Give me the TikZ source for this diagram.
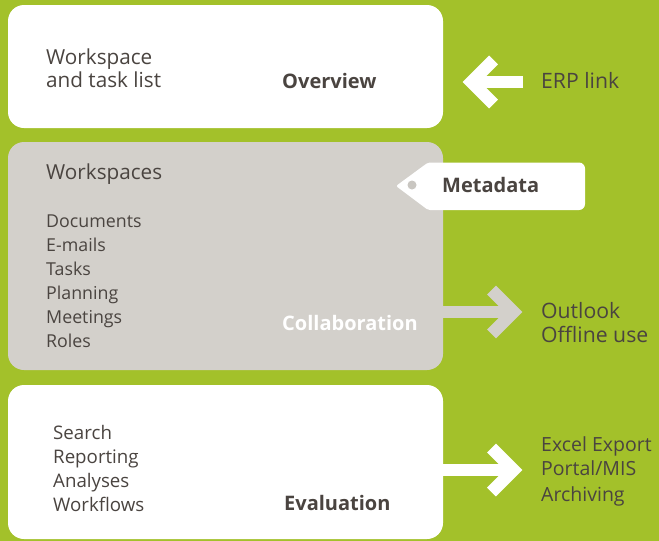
\documentclass[tikz,border=0pt]{standalone}
\usepackage{fontspec}
\setmainfont{Open Sans}
\usetikzlibrary{calc}
\definecolor{bggreen}{HTML}{A3C12A}
\definecolor{boxgray}{HTML}{D3D0CB}
\definecolor{txt}{HTML}{4A4440}
\definecolor{holegray}{HTML}{C9C6C1}
\tikzset{
  lbl/.style={anchor=base west, inner sep=0pt, text=txt},
  big/.style={lbl, font=\fontsize{20.7}{24}\selectfont},
  side/.style={lbl, font=\fontsize{21.2}{24}\selectfont},
  sidesmall/.style={lbl, font=\fontsize{19.5}{22}\selectfont},
  small/.style={lbl, font=\fontsize{17.8}{20}\selectfont},
  smallb/.style={lbl, font=\fontsize{18.7}{20}\selectfont},
  bigbold/.style={lbl, font=\fontsize{20}{24}\selectfont\bfseries},
  fatarrow/.style={line width=12.5pt, miter limit=10, line join=miter},
}
\begin{document}
\begin{tikzpicture}[x=1pt,y=-1pt]
\useasboundingbox (0,0) rectangle (659,541);
\fill[bggreen] (0,0) rectangle (659,541);
% panels
\fill[white, rounded corners=16pt] (8,5) rectangle (443,128);
\fill[boxgray, rounded corners=16pt] (8,142) rectangle (443,370);
\fill[white, rounded corners=16pt] (8,385) rectangle (443,539);
% metadata tag
\fill[white] (396,186) [rounded corners=2pt]-- (428,162.5) [rounded corners=6pt]-- (585,162.5) -- (585,210) [rounded corners=2pt]-- (428,210) -- cycle;
\fill[holegray] (412,185) circle (4.5);
% arrows
\coordinate (erpA) at (471.5,82);
\draw[white, fatarrow] (523,82) -- (erpA);
\draw[white, fatarrow] ($(erpA)+(22,-22)$) -- (erpA) -- ($(erpA)+(22,22)$);
\coordinate (outA) at (513.5,312);
\draw[boxgray, fatarrow] (440,312) -- (outA);
\draw[boxgray, fatarrow] ($(outA)+(-22,-22)$) -- (outA) -- ($(outA)+(-22,22)$);
\coordinate (evA) at (513.5,470);
\draw[white, fatarrow] (440,470) -- (evA);
\draw[white, fatarrow] ($(evA)+(-22,-22)$) -- (evA) -- ($(evA)+(-22,22)$);
% texts panel 1
\node[big] (ws) at (46,64) {Workspace};
\node[big] (tl) at (46,87.5) {and task list};
\node[bigbold] (ov) at (282,88) {Overview};
\node[side] (erp) at (541,88) {ERP link};
% panel 2
\node[big] (wss) at (46,179.5) {Workspaces};
\node[bigbold] (md) at (442,192.5) {Metadata};
\node[small] (d1) at (46,227) {Documents};
\node[small] (d2) at (46,251) {E-mails};
\node[small] (d3) at (46,275) {Tasks};
\node[small] (d4) at (46,299) {Planning};
\node[small] (d5) at (46,323) {Meetings};
\node[small] (d6) at (46,347) {Roles};
\node[bigbold, text=white] (col) at (282,330.5) {Collaboration};
\node[side] (ol) at (541,318) {Outlook};
\node[side] (off) at (541,342) {Offline use};
% panel 3
\node[smallb] (e1) at (53,439) {Search};
\node[smallb] (e2) at (53,463) {Reporting};
\node[smallb] (e3) at (53,487) {Analyses};
\node[smallb] (e4) at (53,511) {Workflows};
\node[bigbold] (ev) at (284,510.5) {Evaluation};
\node[sidesmall] (x1) at (541,451) {Excel Export};
\node[sidesmall] (x2) at (541,475.5) {Portal/MIS};
\node[sidesmall] (x3) at (541,501.5) {Archiving};
\end{tikzpicture}
\end{document}
